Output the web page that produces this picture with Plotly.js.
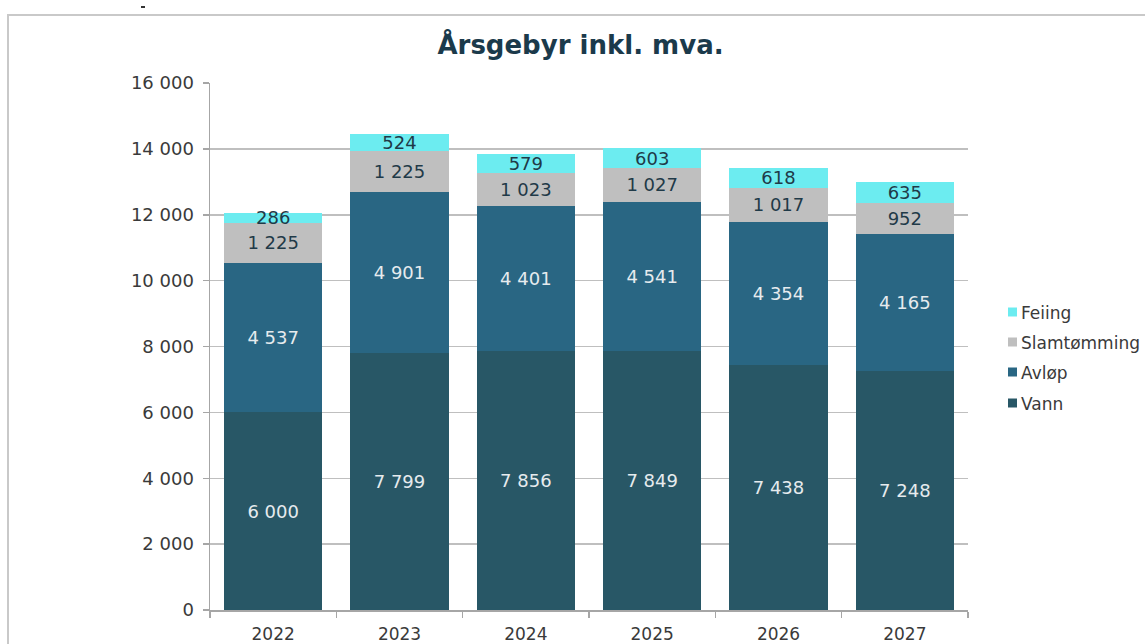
<!DOCTYPE html>
<html>
<head>
<meta charset="utf-8">
<script src="https://cdn.plot.ly/plotly-3.0.1.min.js"></script>
<style>
html,body{margin:0;padding:0;background:#fff;overflow:hidden;}
#chart{width:1145px;height:644px;position:absolute;left:0;top:0;}
#frame{position:absolute;left:7px;top:14px;width:1200px;height:700px;border-left:2px solid #c9c9c9;border-top:2px solid #c9c9c9;pointer-events:none;}
#dash{position:absolute;left:141px;top:6px;width:4px;height:2px;background:#333;}
</style>
</head>
<body>
<div id="chart"></div>
<div id="frame"></div>
<div id="dash"></div>
<script>
const years = ['2022','2023','2024','2025','2026','2027'];
const vann = [6000, 7799, 7856, 7849, 7438, 7248];
const avlop = [4537, 4901, 4401, 4541, 4354, 4165];
const slam = [1225, 1225, 1023, 1027, 1017, 952];
const feiing = [286, 524, 579, 603, 618, 635];
const yTicks = [0, 2000, 4000, 6000, 8000, 10000, 12000, 14000, 16000];
const seriesNames = ['Vann', 'Avløp', 'Slamtømming', 'Feiing'];

const fmt = v => String(v).replace(/\B(?=(\d{3})+(?!\d))/g, ' ');
const FONT = 'DejaVu Sans, Verdana, sans-serif';
const colors = ['#285766', '#296683', '#bfbfbf', '#6cecf0'];
const textColors = ['#e6ebee', '#e6ebee', '#1f3a48', '#1f3a48'];
const seriesVals = [vann, avlop, slam, feiing];

const data = seriesVals.map((vals, i) => ({
  type: 'bar', name: seriesNames[i], x: years, y: vals,
  marker: {color: colors[i], line: {width: 0}},
  text: vals.map(fmt), textposition: 'inside', insidetextanchor: 'middle',
  textangle: 0, constraintext: 'none', cliponaxis: false,
  textfont: {family: FONT, size: 18, color: textColors[i]},
  hoverinfo: 'skip', showlegend: false
}));

// manual legend (plot area: x 210..968 px, y 83..610 px)
const PL = 210, PW = 758, PB = 610, PH = 527;
const px2x = px => (px - PL) / PW;
const py2y = py => (PB - py) / PH;
const legendY = [403, 372, 342, 312]; // Vann, Avløp, Slamtømming, Feiing (px centres)
const shapes = [], annotations = [];
seriesNames.forEach((n, i) => {
  const cy = legendY[i];
  shapes.push({type: 'rect', xref: 'paper', yref: 'paper',
    x0: px2x(1008), x1: px2x(1017), y0: py2y(cy + 4.5), y1: py2y(cy - 4.5),
    fillcolor: colors[i], line: {width: 0}});
  annotations.push({xref: 'paper', yref: 'paper', x: px2x(1019), y: py2y(cy + 1),
    xanchor: 'left', yanchor: 'middle', showarrow: false, text: n,
    font: {family: FONT, size: 17, color: '#3a3a3a'}});
});

const layout = {
  width: 1145, height: 644,
  margin: {l: 210, r: 177, t: 83, b: 34},
  paper_bgcolor: '#fff', plot_bgcolor: '#fff',
  barmode: 'stack', bargap: 0.22,
  font: {family: FONT, color: '#3a3a3a'},
  title: {text: '<b>Årsgebyr inkl. mva.</b>', x: 0.507, xanchor: 'center', y: 1 - 45/644, yanchor: 'middle', yref: 'container',
          font: {family: FONT, size: 26, color: '#1b3a4b'}},
  xaxis: {
    type: 'category', tickson: 'boundaries', ticks: 'outside', ticklen: 6, tickcolor: '#a6a6a6', tickwidth: 1.5,
    showline: true, linecolor: '#a6a6a6', linewidth: 1.5, showgrid: false,
    tickfont: {family: FONT, size: 17, color: '#3a3a3a'}, ticklabelstandoff: 8
  },
  yaxis: {
    range: [0, 16000], tickvals: yTicks, ticktext: yTicks.map(fmt),
    ticks: 'outside', ticklen: 6, tickcolor: '#a6a6a6', tickwidth: 1.5,
    showline: true, linecolor: '#a6a6a6', linewidth: 1.5,
    showgrid: true, gridcolor: '#bfbfbf', gridwidth: 1.5, zeroline: false,
    tickfont: {family: FONT, size: 18, color: '#3a3a3a'}, ticklabelstandoff: 5
  },
  shapes: shapes,
  annotations: annotations,
  showlegend: false
};

Plotly.newPlot('chart', data, layout, {displayModeBar: false, staticPlot: true});
</script>
</body>
</html>
